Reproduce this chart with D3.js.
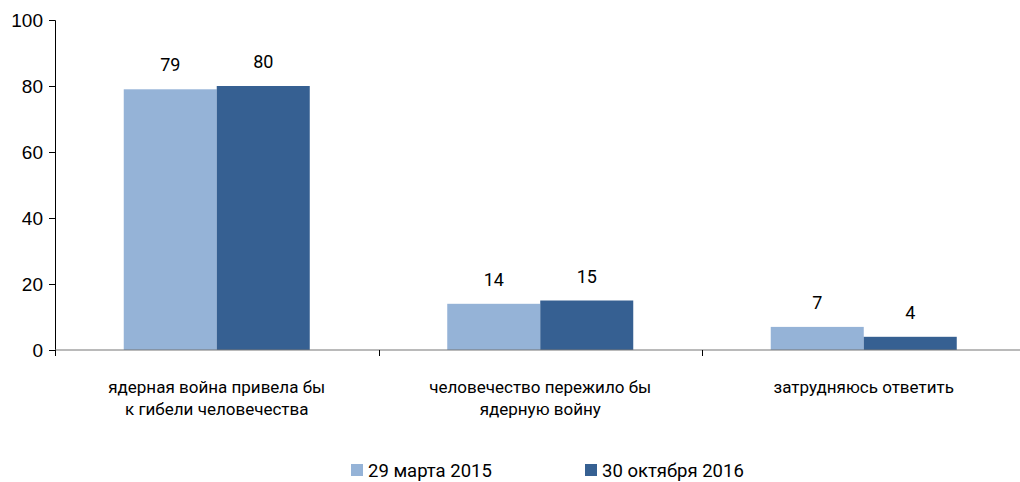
<!DOCTYPE html>
<html>
<head>
    <meta charset="utf-8">
    <title>Ядерная война</title>
    <script src="https://d3js.org/d3.v7.min.js"></script>
    <style>
        body { margin: 0; background: #fff; }
        text { font-family: "Roboto", sans-serif; fill: #000; }
    </style>
</head>
<body>
    <div id="chart"></div>

    <script>
        // data
        var categories = [
            ["ядерная война привела бы", "к гибели человечества"],
            ["человечество пережило бы", "ядерную войну"],
            ["затрудняюсь ответить"]
        ];
        var seriesNames = ["29 марта 2015", "30 октября 2016"];
        var march2015 = [79, 14, 7];
        var october2016 = [80, 15, 4];
        var yTicks = [0, 20, 40, 60, 80, 100];
        var colors = ["#95b3d7", "#366092"];

        var margin = {top: 20, right: 0, bottom: 132, left: 55},
            width = 1020 - margin.left - margin.right,
            height = 482 - margin.top - margin.bottom;

        var svg = d3.select("#chart")
                    .append("svg")
                    .attr("width", 1020)
                    .attr("height", 482)
                    .append("g")
                    .attr("transform", "translate(" + margin.left + "," + margin.top + ")");

        // the last category band runs a little past the right edge
        var x0 = d3.scaleBand()
                   .domain(d3.range(categories.length))
                   .range([0, 970.5]);

        var barW = 93;
        var x1 = d3.scaleBand()
                   .domain([0, 1])
                   .range([x0.bandwidth() / 2 - barW, x0.bandwidth() / 2 + barW]);

        var y = d3.scaleLinear()
                  .domain([0, 100])
                  .range([height, 0]);

        var rows = categories.map(function(c, i) {
            return {cat: i, values: [march2015[i], october2016[i]]};
        });

        // bars
        var groups = svg.append("g")
            .selectAll("g")
            .data(rows)
            .enter()
            .append("g")
            .attr("transform", function(d) { return "translate(" + x0(d.cat) + ",0)"; });

        groups.selectAll("rect")
            .data(function(d) { return d.values; })
            .enter()
            .append("rect")
            .attr("x", function(d, i) { return x1(i); })
            .attr("y", function(d) { return y(d); })
            .attr("width", x1.bandwidth())
            .attr("height", function(d) { return height - y(d); })
            .style("fill", function(d, i) { return colors[i]; });

        groups.selectAll("text.val")
            .data(function(d) { return d.values; })
            .enter()
            .append("text")
            .attr("class", "val")
            .attr("x", function(d, i) { return x1(i) + x1.bandwidth() / 2; })
            .attr("y", function(d) { return y(d) - 18; })
            .style("text-anchor", "middle")
            .style("font-size", "18px")
            .text(function(d) { return d; });

        // y axis
        var yAxis = d3.axisLeft(y).tickValues(yTicks).tickSize(6).tickPadding(6);
        var yg = svg.append("g").call(yAxis);
        yg.selectAll("text").style("font-family", "Liberation Sans, Arial, sans-serif").style("font-size", "19px");
        yg.select(".domain").attr("stroke", "#000");

        // x axis
        var xg = svg.append("g")
           .attr("transform", "translate(0," + height + ")");
        xg.append("line")
           .attr("x1", 0).attr("x2", width)
           .attr("stroke", "#777").attr("stroke-width", 1.2);
        xg.selectAll("line.tick")
           .data(d3.range(categories.length + 1))
           .enter()
           .append("line")
           .attr("class", "tick")
           .attr("x1", function(d) { return Math.round(d * x0.step()) + 0.5; })
           .attr("x2", function(d) { return Math.round(d * x0.step()) + 0.5; })
           .attr("y1", 0).attr("y2", 6)
           .attr("stroke", "#000");

        var labels = xg.selectAll("text.cat")
           .data(categories)
           .enter()
           .append("text")
           .attr("class", "cat")
           .attr("x", function(d, i) { return x0(i) + x0.bandwidth() / 2; })
           .attr("y", 43)
           .style("text-anchor", "middle")
           .style("font-size", "17px");
        labels.selectAll("tspan")
           .data(function(d) { return d; })
           .enter()
           .append("tspan")
           .attr("x", function() { return this.parentNode.getAttribute("x"); })
           .attr("dy", function(d, i) { return i === 0 ? 0 : 22; })
           .text(function(d) { return d; });

        // legend
        var legendX = [296, 530];
        var legend = svg.append("g")
           .attr("transform", "translate(0," + (height + 114) + ")");
        var items = legend.selectAll("g")
           .data(seriesNames)
           .enter()
           .append("g")
           .attr("transform", function(d, i) { return "translate(" + legendX[i] + ",0)"; });
        items.append("rect")
           .attr("width", 12).attr("height", 12)
           .style("fill", function(d, i) { return colors[i]; });
        items.append("text")
           .attr("x", 17).attr("y", 13)
           .style("font-size", "18.5px")
           .text(function(d) { return d; });
    </script>
</body>
</html>
